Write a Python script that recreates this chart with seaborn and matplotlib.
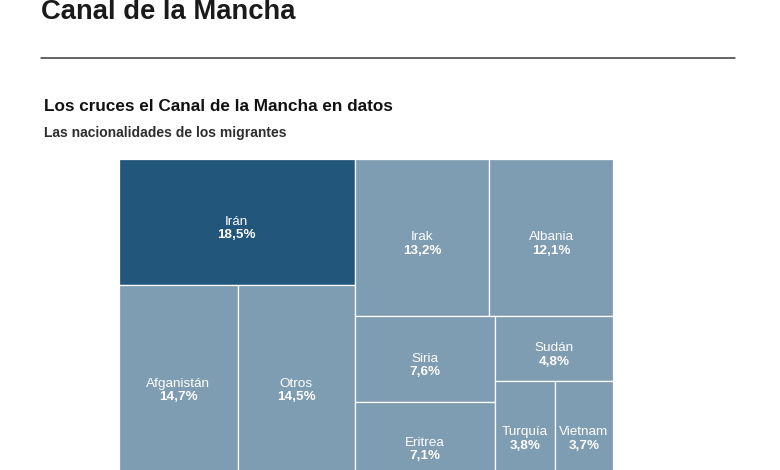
import matplotlib

matplotlib.use("Agg")
import matplotlib.pyplot as plt
import seaborn as sns
from matplotlib.patches import Rectangle

# nationalities of migrants crossing the Channel (share, %)
COUNTRIES = ["Irán", "Afganistán", "Otros", "Irak", "Albania",
             "Siria", "Eritrea", "Sudán", "Turquía", "Vietnam"]
SHARES = [18.5, 14.7, 14.5, 13.2, 12.1, 7.6, 7.1, 4.8, 3.8, 3.7]
HIGHLIGHT = "Irán"

TITLE = "Canal de la Mancha"
SUBTITLE = "Los cruces el Canal de la Mancha en datos"
CAPTION = "Las nacionalidades de los migrantes"

DARK = "#23567b"
LIGHT = "#7f9db2"

W, H = 780, 470


def binary_treemap(values, x0, y0, x1, y1):
    """Binary treemap split (like d3.treemapBinary), returns list of rects."""
    sums = [0.0]
    for v in values:
        sums.append(sums[-1] + v)
    rects = [None] * len(values)

    def partition(i, j, value, x0, y0, x1, y1):
        if i >= j - 1:
            rects[i] = (x0, y0, x1, y1)
            return
        offset = sums[i]
        target = value / 2 + offset
        k, hi = i + 1, j - 1
        while k < hi:
            mid = (k + hi) // 2
            if sums[mid] < target:
                k = mid + 1
            else:
                hi = mid
        if (target - sums[k - 1]) < (sums[k] - target) and i + 1 < k:
            k -= 1
        left = sums[k] - offset
        right = value - left
        if (x1 - x0) > (y1 - y0):
            xk = (x0 * right + x1 * left) / value
            partition(i, k, left, x0, y0, xk, y1)
            partition(k, j, right, xk, y0, x1, y1)
        else:
            yk = (y0 * right + y1 * left) / value
            partition(i, k, left, x0, y0, x1, yk)
            partition(k, j, right, x0, yk, x1, y1)

    partition(0, len(values), sums[-1], x0, y0, x1, y1)
    return rects


def fig_y(px):
    return 1 - px / H


def main() -> None:
    sns.set_theme(style="white")
    plt.rcParams["font.family"] = ["Liberation Sans", "DejaVu Sans"]

    fig = plt.figure(figsize=(W / 100, H / 100), dpi=100)
    fig.patch.set_facecolor("white")

    # header
    fig.text(41 / W, fig_y(19), TITLE, fontsize=19.7, fontweight="bold",
             color="#1a1a1a", ha="left", va="baseline")
    fig.add_artist(plt.Line2D([41 / W, 735 / W], [fig_y(57.5), fig_y(57.5)],
                              color="#3a3a3a", linewidth=1.1))
    fig.text(44 / W, fig_y(111), SUBTITLE, fontsize=12.3, fontweight="bold",
             color="#111111", ha="left", va="baseline")
    fig.text(44 / W, fig_y(137), CAPTION, fontsize=10, fontweight="bold",
             color="#2e2e2e", ha="left", va="baseline")

    # treemap area in pixels
    left, top, width, height = 119, 159, 494, 324
    ax = fig.add_axes([left / W, 1 - (top + height) / H, width / W, height / H])
    aspect = width / height
    rects = binary_treemap(SHARES, 0, 0, aspect, 1)

    for name, share, (x0, y0, x1, y1) in zip(COUNTRIES, SHARES, rects):
        color = DARK if name == HIGHLIGHT else LIGHT
        ax.add_patch(Rectangle((x0, y0), x1 - x0, y1 - y0, facecolor=color,
                               edgecolor="white", linewidth=0.9))
        cx, cy = (x0 + x1) / 2, (y0 + y1) / 2
        ax.text(cx, cy, name, color="white", fontsize=9.7,
                ha="center", va="center")
        ax.text(cx, cy + 13.5 / height, f"{share:.1f}%".replace(".", ","),
                color="white", fontsize=9.7, fontweight="bold",
                ha="center", va="center")

    ax.set_xlim(0, aspect)
    ax.set_ylim(1, 0)
    ax.axis("off")

    fig.savefig("out.png", dpi=100, facecolor="white")
    plt.close(fig)


if __name__ == "__main__":
    main()
